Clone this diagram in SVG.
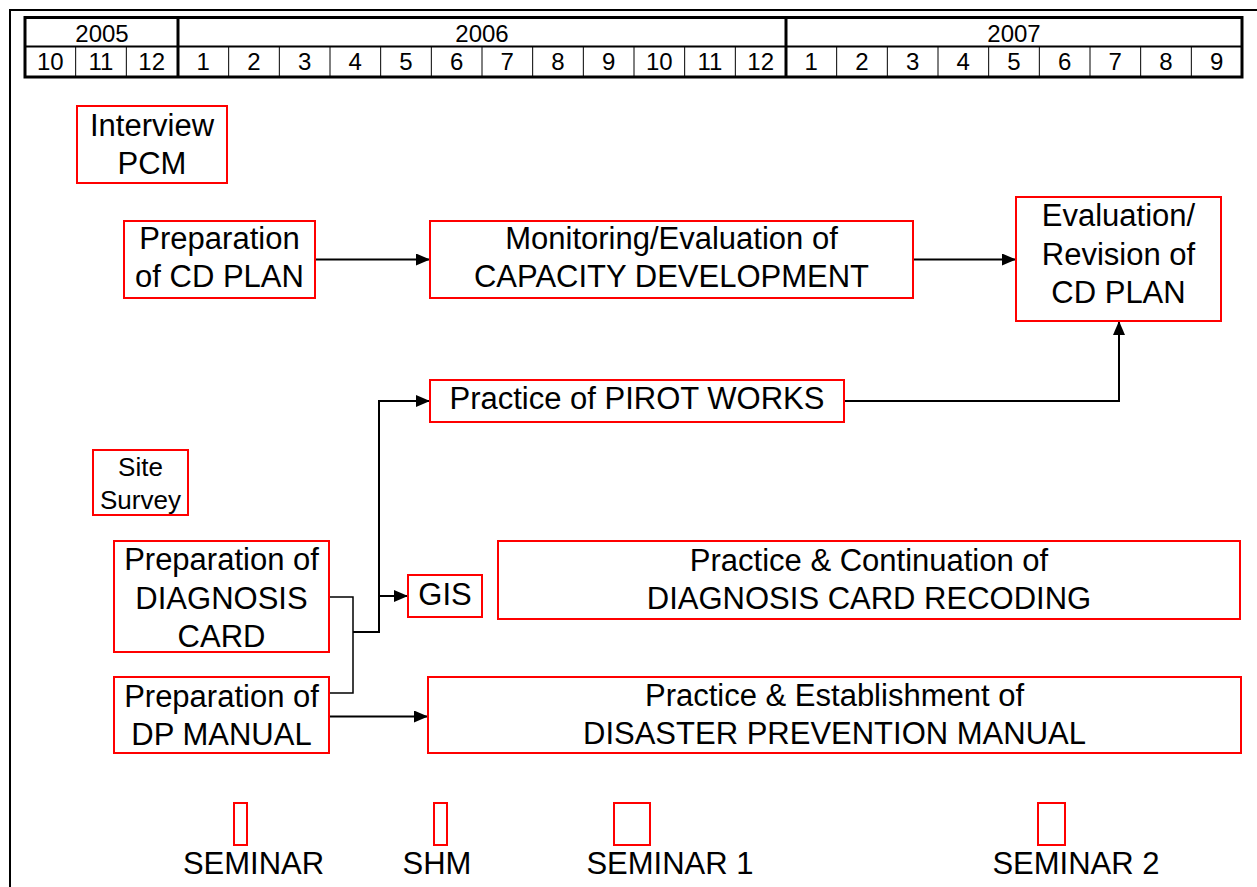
<svg xmlns="http://www.w3.org/2000/svg" width="1257" height="887" viewBox="0 0 1257 887">
  <style>
    .frame { fill: none; stroke: #000; stroke-width: 2; }
    .tbl-thick { fill: none; stroke: #000; stroke-width: 3; }
    .tbl-mid { stroke: #000; stroke-width: 2; }
    .tbl-thin { stroke: #000; stroke-width: 1; }
    .hdr { font-family: "Liberation Sans", Arial, sans-serif; font-size: 24px; fill: #000; text-anchor: middle; }
    .box { fill: #fff; stroke: #ff0000; stroke-width: 2; }
    .lbl { font-family: "Liberation Sans", Arial, sans-serif; font-size: 31px; fill: #000; text-anchor: middle; }
    .lbl-s { font-family: "Liberation Sans", Arial, sans-serif; font-size: 26px; fill: #000; text-anchor: middle; }
    .conn { fill: none; stroke: #000; stroke-width: 2; }
    .conn-thin { fill: none; stroke: #000; stroke-width: 1.5; }
  </style>
  <defs>
    <marker id="arrow" viewBox="0 0 14 12" refX="14" refY="6" markerWidth="14" markerHeight="12" markerUnits="userSpaceOnUse" orient="auto">
      <path d="M0,0 L14,6 L0,12 Z" fill="#000"/>
    </marker>
  </defs>

  <rect width="1257" height="887" fill="#fff"/>

  <!-- outer frame (top and left edges) -->
  <path class="frame" d="M1257,10 H10 V887"/>

  <!-- timeline header -->
  <g id="timeline">
    <g id="month-dividers">
      <line class="tbl-thin" x1="75.67" y1="46.5" x2="75.67" y2="77"/>
      <line class="tbl-thin" x1="126.33" y1="46.5" x2="126.33" y2="77"/>
      <line class="tbl-thin" x1="228.67" y1="46.5" x2="228.67" y2="77"/>
      <line class="tbl-thin" x1="279.33" y1="46.5" x2="279.33" y2="77"/>
      <line class="tbl-thin" x1="330" y1="46.5" x2="330" y2="77"/>
      <line class="tbl-thin" x1="380.67" y1="46.5" x2="380.67" y2="77"/>
      <line class="tbl-thin" x1="431.33" y1="46.5" x2="431.33" y2="77"/>
      <line class="tbl-thin" x1="482" y1="46.5" x2="482" y2="77"/>
      <line class="tbl-thin" x1="532.67" y1="46.5" x2="532.67" y2="77"/>
      <line class="tbl-thin" x1="583.33" y1="46.5" x2="583.33" y2="77"/>
      <line class="tbl-thin" x1="634" y1="46.5" x2="634" y2="77"/>
      <line class="tbl-thin" x1="684.67" y1="46.5" x2="684.67" y2="77"/>
      <line class="tbl-thin" x1="735.33" y1="46.5" x2="735.33" y2="77"/>
      <line class="tbl-thin" x1="836.67" y1="46.5" x2="836.67" y2="77"/>
      <line class="tbl-thin" x1="887.33" y1="46.5" x2="887.33" y2="77"/>
      <line class="tbl-thin" x1="938" y1="46.5" x2="938" y2="77"/>
      <line class="tbl-thin" x1="988.67" y1="46.5" x2="988.67" y2="77"/>
      <line class="tbl-thin" x1="1039.33" y1="46.5" x2="1039.33" y2="77"/>
      <line class="tbl-thin" x1="1090" y1="46.5" x2="1090" y2="77"/>
      <line class="tbl-thin" x1="1140.67" y1="46.5" x2="1140.67" y2="77"/>
      <line class="tbl-thin" x1="1191.33" y1="46.5" x2="1191.33" y2="77"/>
    </g>
    <line class="tbl-mid" x1="25" y1="46.5" x2="1242" y2="46.5"/>
    <line class="tbl-thick" x1="178" y1="17.5" x2="178" y2="77"/>
    <line class="tbl-thick" x1="786" y1="17.5" x2="786" y2="77"/>
    <rect class="tbl-thick" x="25" y="17.5" width="1217" height="59.5"/>

    <text class="hdr" x="102" y="42">2005</text>
    <text class="hdr" x="482" y="42">2006</text>
    <text class="hdr" x="1014" y="42">2007</text>

    <g id="months">
      <text class="hdr" x="50.3" y="70">10</text>
      <text class="hdr" x="101" y="70">11</text>
      <text class="hdr" x="151.7" y="70">12</text>
      <text class="hdr" x="203.3" y="70">1</text>
      <text class="hdr" x="254" y="70">2</text>
      <text class="hdr" x="304.7" y="70">3</text>
      <text class="hdr" x="355.3" y="70">4</text>
      <text class="hdr" x="406" y="70">5</text>
      <text class="hdr" x="456.7" y="70">6</text>
      <text class="hdr" x="507.3" y="70">7</text>
      <text class="hdr" x="558" y="70">8</text>
      <text class="hdr" x="608.7" y="70">9</text>
      <text class="hdr" x="659.3" y="70">10</text>
      <text class="hdr" x="710" y="70">11</text>
      <text class="hdr" x="760.7" y="70">12</text>
      <text class="hdr" x="811.3" y="70">1</text>
      <text class="hdr" x="862" y="70">2</text>
      <text class="hdr" x="912.7" y="70">3</text>
      <text class="hdr" x="963.3" y="70">4</text>
      <text class="hdr" x="1014" y="70">5</text>
      <text class="hdr" x="1064.7" y="70">6</text>
      <text class="hdr" x="1115.3" y="70">7</text>
      <text class="hdr" x="1166" y="70">8</text>
      <text class="hdr" x="1216.7" y="70">9</text>
    </g>
  </g>

  <!-- connectors -->
  <g id="connectors">
    <line class="conn" x1="315" y1="259.5" x2="430" y2="259.5" marker-end="url(#arrow)"/>
    <line class="conn" x1="913" y1="259.5" x2="1016" y2="259.5" marker-end="url(#arrow)"/>
    <path class="conn" d="M844,401 H1119 V321" marker-end="url(#arrow)"/>
    <path class="conn-thin" d="M329,597 H353 V693 H329"/>
    <path class="conn" d="M353,632 H379 V401"/>
    <line class="conn" x1="378" y1="401" x2="430" y2="401" marker-end="url(#arrow)"/>
    <line class="conn" x1="378" y1="596" x2="408" y2="596" marker-end="url(#arrow)"/>
    <line class="conn" x1="329" y1="716.5" x2="428" y2="716.5" marker-end="url(#arrow)"/>
  </g>

  <!-- activity nodes -->
  <g id="interview-pcm">
    <rect class="box" x="77" y="106" width="150" height="77"/>
    <text class="lbl" x="152" y="136">Interview</text>
    <text class="lbl" x="152" y="174">PCM</text>
  </g>

  <g id="prep-cd-plan">
    <rect class="box" x="124" y="221" width="191" height="77"/>
    <text class="lbl" x="219.5" y="249">Preparation</text>
    <text class="lbl" x="219.5" y="287">of CD PLAN</text>
  </g>

  <g id="monitoring-cd">
    <rect class="box" x="430" y="221" width="483" height="77"/>
    <text class="lbl" x="671.5" y="249">Monitoring/Evaluation of</text>
    <text class="lbl" x="671.5" y="287">CAPACITY DEVELOPMENT</text>
  </g>

  <g id="eval-cd-plan">
    <rect class="box" x="1016" y="197" width="205" height="124"/>
    <text class="lbl" x="1118.5" y="226">Evaluation/</text>
    <text class="lbl" x="1118.5" y="265">Revision of</text>
    <text class="lbl" x="1118.5" y="303">CD PLAN</text>
  </g>

  <g id="pirot-works">
    <rect class="box" x="430" y="380" width="414" height="42"/>
    <text class="lbl" x="637" y="409">Practice of PIROT WORKS</text>
  </g>

  <g id="site-survey">
    <rect class="box" x="93" y="450" width="95" height="65"/>
    <text class="lbl-s" x="140.5" y="476">Site</text>
    <text class="lbl-s" x="140.5" y="509">Survey</text>
  </g>

  <g id="prep-diagnosis-card">
    <rect class="box" x="114" y="541" width="215" height="111"/>
    <text class="lbl" x="221.5" y="570">Preparation of</text>
    <text class="lbl" x="221.5" y="609">DIAGNOSIS</text>
    <text class="lbl" x="221.5" y="647">CARD</text>
  </g>

  <g id="gis">
    <rect class="box" x="408" y="575" width="74" height="42"/>
    <text class="lbl" x="445" y="605">GIS</text>
  </g>

  <g id="diagnosis-recoding">
    <rect class="box" x="498" y="541" width="742" height="78"/>
    <text class="lbl" x="869" y="571">Practice &amp; Continuation of</text>
    <text class="lbl" x="869" y="609">DIAGNOSIS CARD RECODING</text>
  </g>

  <g id="prep-dp-manual">
    <rect class="box" x="114" y="677" width="215" height="76"/>
    <text class="lbl" x="221.5" y="707">Preparation of</text>
    <text class="lbl" x="221.5" y="745">DP MANUAL</text>
  </g>

  <g id="dp-manual">
    <rect class="box" x="428" y="677" width="813" height="76"/>
    <text class="lbl" x="834.5" y="706">Practice &amp; Establishment of</text>
    <text class="lbl" x="834.5" y="744">DISASTER PREVENTION MANUAL</text>
  </g>

  <!-- seminar markers -->
  <g id="seminar">
    <rect class="box" x="234" y="803" width="13" height="42"/>
    <text class="lbl" x="253.5" y="874">SEMINAR</text>
  </g>
  <g id="shm">
    <rect class="box" x="434" y="803" width="13" height="42"/>
    <text class="lbl" x="437" y="874">SHM</text>
  </g>
  <g id="seminar-1">
    <rect class="box" x="614" y="803" width="36" height="42"/>
    <text class="lbl" x="670" y="874">SEMINAR 1</text>
  </g>
  <g id="seminar-2">
    <rect class="box" x="1038" y="803" width="27" height="42"/>
    <text class="lbl" x="1076" y="874">SEMINAR 2</text>
  </g>
</svg>
